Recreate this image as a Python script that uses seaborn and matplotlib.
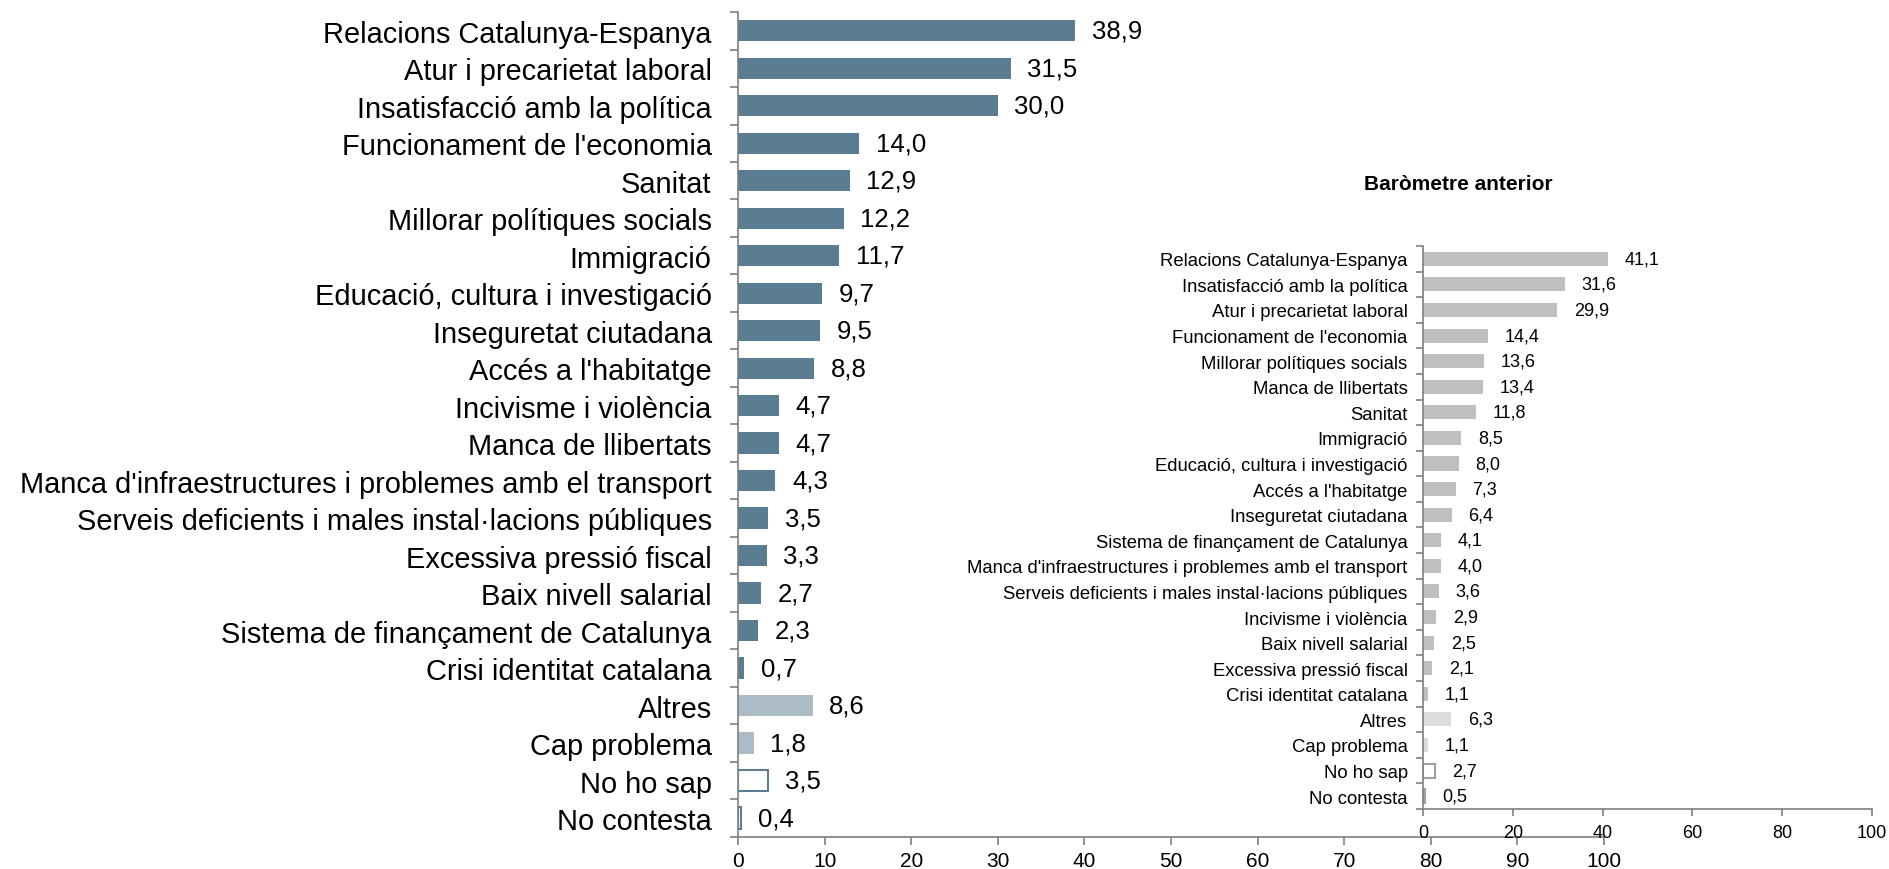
import numpy as np
import pandas as pd
import matplotlib
matplotlib.use('Agg')
import matplotlib.pyplot as plt
import seaborn as sns

# ==========================================
# 1. DADES
# ==========================================
temes_actual = [
    'Relacions Catalunya-Espanya', 'Atur i precarietat laboral',
    'Insatisfacció amb la política', "Funcionament de l'economia",
    'Sanitat', 'Millorar polítiques socials', 'Immigració',
    'Educació, cultura i investigació', 'Inseguretat ciutadana',
    "Accés a l'habitatge", 'Incivisme i violència', 'Manca de llibertats',
    "Manca d'infraestructures i problemes amb el transport",
    'Serveis deficients i males instal·lacions públiques',
    'Excessiva pressió fiscal', 'Baix nivell salarial',
    'Sistema de finançament de Catalunya', 'Crisi identitat catalana',
    'Altres', 'Cap problema', 'No ho sap', 'No contesta',
]
valors_actual = [38.9, 31.5, 30.0, 14.0, 12.9, 12.2, 11.7, 9.7, 9.5, 8.8, 4.7,
                 4.7, 4.3, 3.5, 3.3, 2.7, 2.3, 0.7, 8.6, 1.8, 3.5, 0.4]

temes_anterior = [
    'Relacions Catalunya-Espanya', 'Insatisfacció amb la política',
    'Atur i precarietat laboral', "Funcionament de l'economia",
    'Millorar polítiques socials', 'Manca de llibertats', 'Sanitat',
    'Immigració', 'Educació, cultura i investigació', "Accés a l'habitatge",
    'Inseguretat ciutadana', 'Sistema de finançament de Catalunya',
    "Manca d'infraestructures i problemes amb el transport",
    'Serveis deficients i males instal·lacions públiques',
    'Incivisme i violència', 'Baix nivell salarial',
    'Excessiva pressió fiscal', 'Crisi identitat catalana',
    'Altres', 'Cap problema', 'No ho sap', 'No contesta',
]
valors_anterior = [41.1, 31.6, 29.9, 14.4, 13.6, 13.4, 11.8, 8.5, 8.0, 7.3, 6.4,
                   4.1, 4.0, 3.6, 2.9, 2.5, 2.1, 1.1, 6.3, 1.1, 2.7, 0.5]

ticks_x = [0, 10, 20, 30, 40, 50, 60, 70, 80, 90, 100]
ticks_x_anterior = [0, 20, 40, 60, 80, 100]

# ==========================================
# 2. ESTIL
# ==========================================
sns.set_theme(style='white')
plt.rcParams['font.family'] = ['Liberation Sans', 'DejaVu Sans']
plt.rcParams['text.color'] = 'black'
plt.rcParams['xtick.labelcolor'] = 'black'
plt.rcParams['ytick.labelcolor'] = 'black'

blau = '#5b7d91'
blau_clar = '#abbcc7'
gris = '#bfbfbf'
gris_clar = '#dcdcdc'
eix = '#7f7f7f'


def colors_barres(n, fosc, clar):
    # 18 temes + Altres, Cap problema (clars) + NS/NC (buits)
    return [fosc] * (n - 4) + [clar, clar, 'white', 'white']


def dibuixa(ax, temes, valors, fosc, clar, vora, amplada, mida_val, mida_tick,
            mida_lab, ticks, pad_lab, long_tick, pad_x):
    df = pd.DataFrame({'tema': temes, 'valor': valors})
    sns.barplot(data=df, x='valor', y='tema', hue='tema',
                palette=colors_barres(len(temes), fosc, clar),
                width=amplada, legend=False, ax=ax, saturation=1)
    n = len(temes)
    for i, p in enumerate(ax.patches):
        if i >= n - 2:
            p.set_facecolor('white')
            p.set_edgecolor(vora)
            p.set_linewidth(1.5)
        else:
            p.set_edgecolor('none')
    for cont in ax.containers:
        ax.bar_label(cont, labels=[f'{v:.1f}'.replace('.', ',') for v in cont.datavalues],
                     padding=12, fontsize=mida_val, color='black')
    ax.set_xlim(0, 100)
    ax.set_ylim(n - 0.5, -0.5)
    ax.set_xticks(ticks)
    ax.set_xticklabels([str(t) for t in ticks], fontsize=mida_tick)
    ax.set_yticks(np.arange(-0.5, n, 1), minor=True)
    ax.tick_params(axis='y', which='major', length=0, pad=pad_lab, labelsize=mida_lab)
    ax.tick_params(axis='y', which='minor', length=long_tick, width=1.2,
                   color=eix, direction='out', left=True)
    ax.tick_params(axis='x', length=long_tick, width=1.2, color=eix,
                   direction='out', bottom=True, pad=pad_x)
    ax.set_xlabel('')
    ax.set_ylabel('')
    for s in ['top', 'right']:
        ax.spines[s].set_visible(False)
    for s in ['left', 'bottom']:
        ax.spines[s].set_color(eix)
        ax.spines[s].set_linewidth(1.2)
    ax.set_facecolor('none')


# ==========================================
# 3. GRÀFIC
# ==========================================
fig = plt.figure(figsize=(18.89, 8.70), dpi=100)

ax1 = fig.add_axes([0.3907, 0.037, 0.4584, 0.948])
dibuixa(ax1, temes_actual, valors_actual, blau, blau_clar, blau, 0.57,
        18.5, 15, 20.9, ticks_x, 19, 6, 4)

ax2 = fig.add_axes([0.7533, 0.069, 0.2377, 0.6471])
dibuixa(ax2, temes_anterior, valors_anterior, gris, gris_clar, '#a0a0a0', 0.55,
        13, 13, 13.3, ticks_x_anterior, 11, 5, 6)

fig.text(1458 / 1889, 1 - 185 / 870, 'Baròmetre anterior', ha='center', va='center',
         fontsize=15, fontweight='bold')

fig.savefig('out.png', dpi=100)
